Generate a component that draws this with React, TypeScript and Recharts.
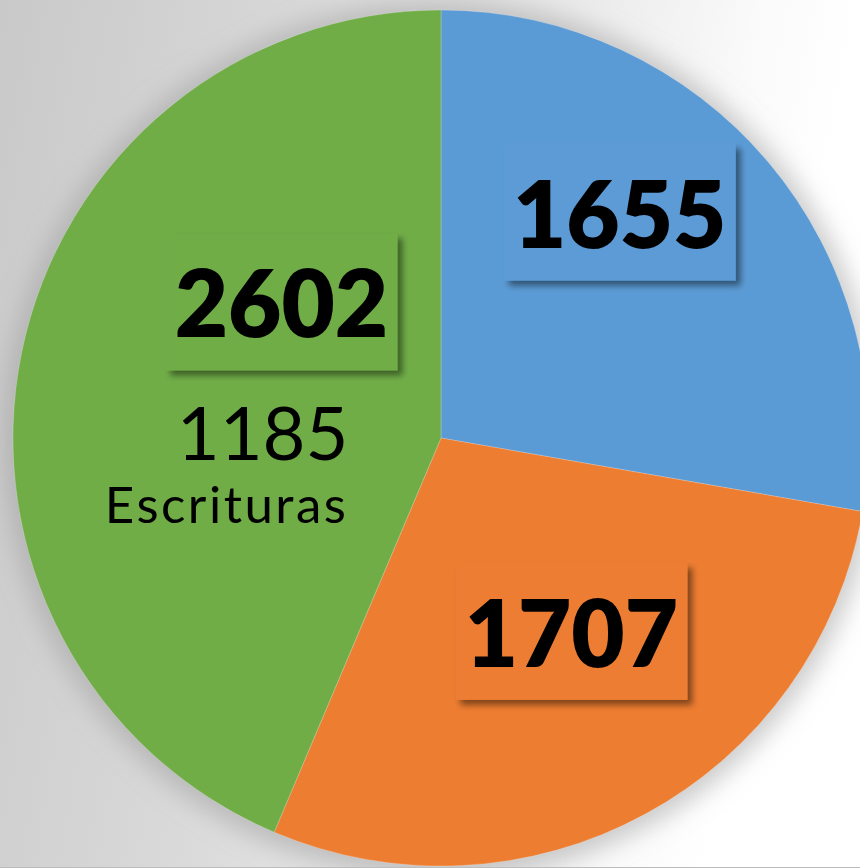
import { PieChart, Pie, Cell } from 'recharts';

const categories = ['A', 'B', 'Escrituras'];
const values = [1655, 1707, 2602];
const colors = ['#5B9BD5', '#ED7D31', '#70AD47'];
const noteValue = 1185;
const noteLabel = 'Escrituras';

// where each data label sits, as polar offset from the slice middle
const labelRadius = [0.673, 0.545, 0.49];
const labelAngleShift = [11.6, 5.4, -29];

const data = categories.map((name, i) => ({ name, value: values[i] }));
const shadowData = [{ name: 'total', value: values.reduce((a, b) => a + b, 0) }];

const RAD = Math.PI / 180;
const BOX_W = 232;
const BOX_H = 137;

const renderLabel = (props: any) => {
  const { cx, cy, midAngle, outerRadius, index, value } = props;
  const a = (midAngle + labelAngleShift[index]) * RAD;
  const r = outerRadius * labelRadius[index];
  const x = cx + r * Math.cos(a);
  const y = cy - r * Math.sin(a);
  return (
    <g key={'lbl' + index}>
      <rect
        x={x - BOX_W / 2}
        y={y - BOX_H / 2}
        width={BOX_W}
        height={BOX_H}
        fill={colors[index]}
        filter="url(#boxShadow)"
      />
      <text
        x={x}
        y={y}
        textAnchor="middle"
        dominantBaseline="central"
        fontFamily="Lato, 'Open Sans', sans-serif"
        fontWeight={800}
        fontSize={92}
        fill="#000"
      >
        {value}
      </text>
      {index === 2 && (
        <g fontFamily="Lato, 'Open Sans', sans-serif" fill="#000" textAnchor="end">
          <text x={x + 67} y={y + 158} fontSize={74}>
            {noteValue}
          </text>
          <text x={x + 67} y={y + 221} fontSize={51} letterSpacing={2.5}>
            {noteLabel}
          </text>
        </g>
      )}
    </g>
  );
};

export default function App() {
  return (
    <div
      style={{
        position: 'absolute',
        left: 0,
        top: 0,
        width: 860,
        height: 868,
        overflow: 'hidden',
        background: 'linear-gradient(100deg, #c9c9c9 0%, #d8d8d8 30%, #e8e8e8 55%, #fafafa 75%, #ffffff 85%)',
        borderBottom: '1px solid #bcbcbc',
        boxSizing: 'border-box',
      }}
    >
      <PieChart width={860} height={867} margin={{ top: 0, right: 0, bottom: 0, left: 0 }}>
        <defs>
          <filter id="boxShadow" x="-20%" y="-20%" width="150%" height="150%">
            <feDropShadow dx="5" dy="5" stdDeviation="3" floodColor="#000" floodOpacity="0.45" />
          </filter>
          <filter id="pieGlow" x="-20%" y="-20%" width="140%" height="140%">
            <feGaussianBlur stdDeviation="12" />
          </filter>
        </defs>
        <Pie
          data={shadowData}
          dataKey="value"
          cx={441}
          cy={440}
          outerRadius={438}
          startAngle={90}
          endAngle={-270}
          fill="#9a9a9a"
          fillOpacity={0.5}
          stroke="none"
          filter="url(#pieGlow)"
          isAnimationActive={false}
        />
        <Pie
          data={data}
          dataKey="value"
          cx={441}
          cy={438}
          outerRadius={428}
          startAngle={90}
          endAngle={-270}
          stroke="rgba(255,255,255,0.2)"
          strokeWidth={1}
          label={renderLabel}
          labelLine={false}
          isAnimationActive={false}
        >
          {data.map((d, i) => (
            <Cell key={d.name} fill={colors[i]} />
          ))}
        </Pie>
      </PieChart>
    </div>
  );
}
